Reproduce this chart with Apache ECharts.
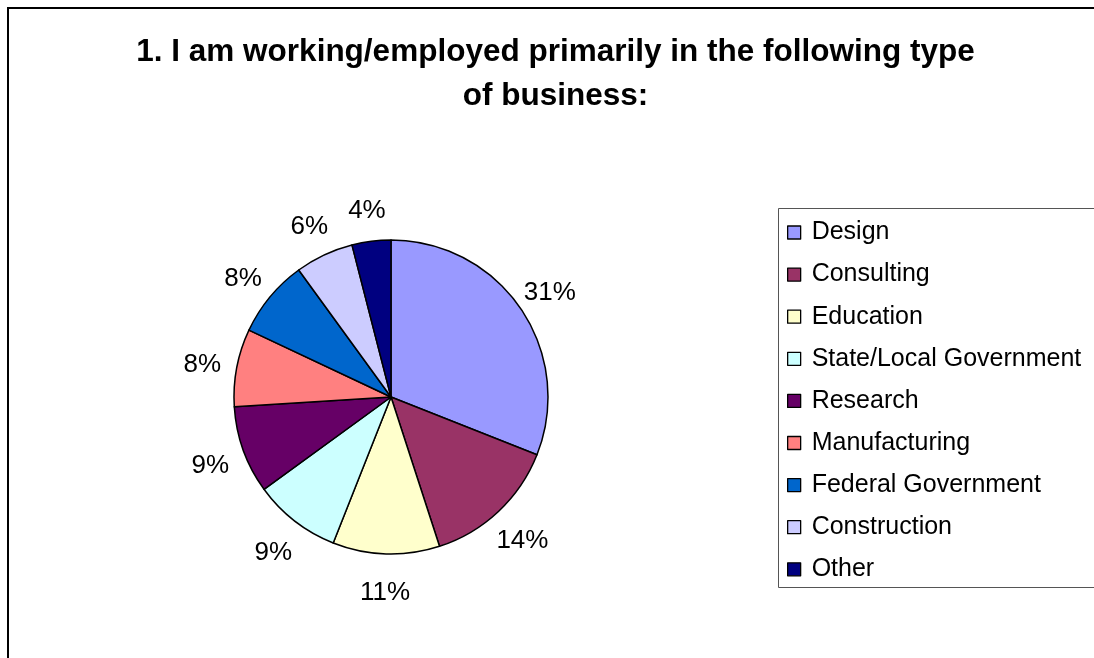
<!DOCTYPE html>
<html>
<head>
<meta charset="utf-8">
<script src="https://cdn.jsdelivr.net/npm/echarts@6/dist/echarts.min.js"></script>
<style>
  html, body { margin: 0; padding: 0; background: #fff; }
  #chart { width: 1094px; height: 658px; }
</style>
</head>
<body>
<div id="chart"></div>
<script>
// Business types and their shares (percent)
const categories = ['Design', 'Consulting', 'Education', 'State/Local Government', 'Research',
  'Manufacturing', 'Federal Government', 'Construction', 'Other'];
const shares = [31, 14, 11, 9, 9, 8, 8, 6, 4];
const colors = ['#9999FF', '#993366', '#FFFFCC', '#CCFFFF', '#660066',
  '#FF8080', '#0066CC', '#CCCCFF', '#000080'];
const titleLines = ['1. I am working/employed primarily in the following type', 'of business:'];

const FONT = '"Liberation Sans", Arial, sans-serif';
const center = [391, 397];
// label ring sits a touch lower so the percentages clear the rim evenly
const labelCenter = [391, 401];

const sliceData = categories.map((name, i) => ({
  name, value: shares[i], itemStyle: { color: colors[i] }
}));

const chart = echarts.init(document.getElementById('chart'), null, { renderer: 'canvas' });
chart.setOption({
  animation: false,
  backgroundColor: '#fff',
  graphic: [
    { type: 'rect', shape: { x: 8, y: 8, width: 1200, height: 800 },
      style: { fill: 'none', stroke: '#000', lineWidth: 2 }, silent: true },
    { type: 'rect', shape: { x: 778.5, y: 208.5, width: 400, height: 379 },
      style: { fill: 'none', stroke: '#555', lineWidth: 1 }, silent: true },
    { type: 'text', x: 555.5, y: 52,
      style: { text: titleLines[0], font: 'bold 31.5px ' + FONT, fill: '#000',
        textAlign: 'center', textVerticalAlign: 'middle' }, silent: true },
    { type: 'text', x: 555.5, y: 96,
      style: { text: titleLines[1], font: 'bold 31.5px ' + FONT, fill: '#000',
        textAlign: 'center', textVerticalAlign: 'middle' }, silent: true }
  ],
  legend: {
    orient: 'vertical',
    left: 782,
    top: 214.5,
    data: categories,
    icon: 'rect',
    itemWidth: 13,
    itemHeight: 13,
    itemGap: 16.1,
    selectedMode: false,
    itemStyle: { borderColor: '#000', borderWidth: 1.3 },
    textStyle: { fontFamily: FONT, fontSize: 25, color: '#000', lineHeight: 26, padding: [0, 0, 0, 6] }
  },
  series: [
    {
      type: 'pie',
      center: center,
      radius: [0, 157],
      startAngle: 90,
      clockwise: true,
      avoidLabelOverlap: false,
      label: { show: false },
      labelLine: { show: false },
      itemStyle: { borderColor: '#000', borderWidth: 1.5 },
      emphasis: { disabled: true },
      data: sliceData
    },
    {
      // transparent ring that carries the percentage labels around the pie
      type: 'pie',
      center: labelCenter,
      radius: [176, 202],
      startAngle: 90,
      clockwise: true,
      silent: true,
      legendHoverLink: false,
      avoidLabelOverlap: false,
      itemStyle: { color: 'rgba(0,0,0,0)', borderWidth: 0 },
      label: {
        show: true, position: 'inside',
        formatter: p => p.value + '%',
        fontFamily: FONT, fontSize: 26, color: '#000'
      },
      labelLine: { show: false },
      emphasis: { disabled: true },
      data: categories.map((name, i) => ({ name, value: shares[i] }))
    }
  ]
});
</script>
</body>
</html>
